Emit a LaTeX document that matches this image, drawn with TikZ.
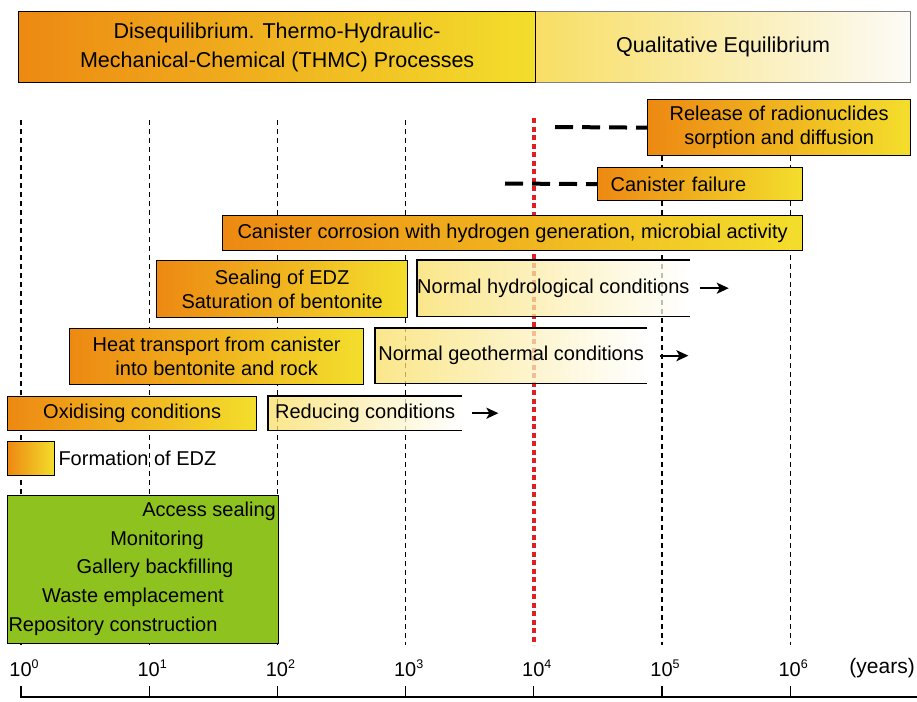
\documentclass[tikz,border=0pt]{standalone}
\usepackage{fontspec}
\setmainfont{Liberation Sans}
\usetikzlibrary{positioning,arrows.meta}
\definecolor{thmcorange}{RGB}{237,137,18}
\definecolor{thmcyellow}{RGB}{243,222,44}
\definecolor{eqyellow}{RGB}{248,222,100}
\definecolor{eqwhite}{RGB}{252,251,247}
\definecolor{opsgreen}{RGB}{141,194,31}
\definecolor{limitred}{RGB}{222,32,36}
\newcommand{\decade}[1]{10\raisebox{8pt}{\fontsize{12.5}{12.5}\selectfont #1}}

\begin{document}
\begin{tikzpicture}[x=1pt, y=-1pt,
		every node/.style={font=\fontsize{20}{24}\selectfont, inner sep=0pt},
		hot/.style={draw=black, line width=1.3pt, left color=thmcorange, right color=thmcyellow, anchor=north west, align=center},
		mild/.style={left color=eqyellow, right color=white, fill opacity=0.75, text opacity=1, anchor=north west},
		rim/.style={line width=1.3pt},
		grid/.style={line width=1.2pt, dash pattern=on 5pt off 4pt},
		limit/.style={limitred, line width=3.5pt, dash pattern=on 5pt off 3.5pt},
		lead/.style={line width=4pt, dash pattern=on 18pt off 9pt},
		onward/.style={-{Stealth[length=12pt,width=11pt,inset=3pt]}, line width=2pt},
		big/.style={font=\fontsize{21.5}{29}\selectfont},
	]
	
		\useasboundingbox (0,0) rectangle (917,701);
	
		\foreach \i in {0,1,2,3,5,6}
			\draw[grid] (21+128.2*\i,120) -- (21+128.2*\i,645);
		\draw[limit] (534,118) -- (534,645);
	
		\node[draw=gray, line width=1.3pt, left color=eqyellow, right color=eqwhite, anchor=north west, minimum width=375pt, minimum height=71pt, big] (qual) at (535,11) {Qualitative Equilibrium};
		\node[hot, minimum width=517pt, minimum height=71pt, big] (diseq) at (18,11) {Disequilibrium. Thermo-Hydraulic-\\Mechanical-Chemical (THMC) Processes};
	
		\node[hot, minimum width=263pt, minimum height=56pt] (rel) at (647,99) {Release of radionuclides\\sorption and diffusion};
		\node[hot, minimum height=33pt, text width=179pt, inner xsep=13pt, align=left] (fail) at (597,167) {Canister failure};
		\node[hot, minimum width=580pt, minimum height=35pt] (corr) at (222,215) {Canister corrosion with hydrogen generation, microbial activity};
		\node[hot, minimum width=251pt, minimum height=57pt] (seal) at (156,260) {Sealing of EDZ\\Saturation of bentonite};
		\node[mild, minimum width=271pt, minimum height=56pt] (hyd) at (417,260) {Normal hydrological conditions};
		\node[hot, minimum width=294pt, minimum height=56pt] (heat) at (69,328) {Heat transport from canister\\into bentonite and rock};
		\node[mild, minimum width=272pt, minimum height=55pt] (geo) at (375,328) {Normal geothermal conditions};
		\node[hot, minimum width=249pt, minimum height=34pt] (oxi) at (7,396) {Oxidising conditions};
		\node[mild, minimum width=194pt, minimum height=34pt] (red) at (268,396) {Reducing conditions};
		\node[hot, minimum width=47pt, minimum height=34pt] (edz) at (7,441) {};
		\node[right=3pt of edz] (edzlabel) {Formation of EDZ};
	
		\foreach \bx in {hyd,geo,red}
			\draw[rim] (\bx.north east) -- (\bx.north west) -- (\bx.south west) -- (\bx.south east);
	
		\coordinate (rel0) at (555,127);
		\coordinate (fail0) at (505,183.5);
		\draw[lead] (rel0) -- (rel.west);
		\draw[lead] (fail0) -- (fail.west);
	
		\coordinate[right=10pt of hyd] (hyd1);
		\coordinate[right=39pt of hyd] (hyd2);
		\coordinate[right=13pt of geo] (geo1);
		\coordinate[right=41pt of geo] (geo2);
		\coordinate[right=10pt of red] (red1);
		\coordinate[right=36pt of red] (red2);
		\draw[onward] (hyd1) -- (hyd2);
		\draw[onward] (geo1) -- (geo2);
		\draw[onward] (red1) -- (red2);
	
		\node[draw, line width=1.3pt, fill=opsgreen, anchor=north west, minimum width=271pt, minimum height=148pt] (ops) at (7,495) {};
		\node[anchor=east] (seal2) at (276,511) {Access sealing};
		\node (mon) at (157,540) {Monitoring};
		\node (back) at (155,568) {Gallery backfilling};
		\node (waste) at (133,597) {Waste emplacement};
		\node (cons) at (113,626) {Repository construction};
	
		\draw[line width=1.3pt] (20,697) -- (917,697);
		\foreach \i in {0,...,6} {
			\draw[line width=1.3pt] (21+128.2*\i,686) -- (21+128.2*\i,697);
			\node (dec\i) at (24+128.2*\i,668) {\decade{\i}};
		}
		\node[anchor=east, font=\fontsize{21}{24}\selectfont] (unit) at (915,668) {(years)};
	
	\end{tikzpicture}
\end{document}
